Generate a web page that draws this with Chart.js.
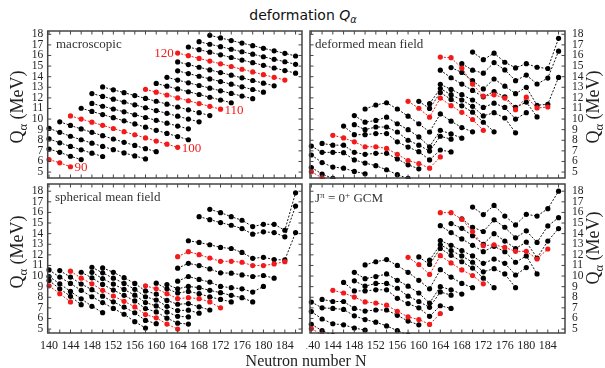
<!DOCTYPE html>
<html>
<head>
<meta charset="utf-8">
<script src="https://cdn.jsdelivr.net/npm/chart.js@4.4.1/dist/chart.umd.min.js"></script>
<style>
  body { margin: 0; background: #fff; }
  #page { position: relative; width: 605px; height: 368px; overflow: hidden;
          font-family: "Liberation Serif", "Times New Roman", serif; color: #222; }
  canvas { position: absolute; }
  .txt { position: absolute; white-space: nowrap; line-height: 1; }
  .ytitle { position: absolute; white-space: nowrap; line-height: 1; font-size: 18px;
            transform: translate(-50%, -50%) rotate(-90deg); }
  .name { font-size: 13px; color: #333; transform: translateY(-50%); z-index: 5; }
  .sb { font-size: 70%; position: relative; top: 0.3em; }
  .sp { font-size: 70%; position: relative; top: -0.45em; }
</style>
</head>
<body>
<div id="page">
  <canvas id="macro" width="306" height="155" style="left:0;top:27px"></canvas>
  <canvas id="dmf" width="299" height="155" style="left:306px;top:27px"></canvas>
  <canvas id="smf" width="306" height="178" style="left:0;top:180px"></canvas>
  <canvas id="gcm" width="299" height="178" style="left:306px;top:180px"></canvas>

  <div class="txt" style="left:303px;top:15px;transform:translate(-50%,-50%);font-family:'DejaVu Sans',sans-serif;font-size:14px;color:#111;">deformation <i>Q</i><span class="sb"><i>&alpha;</i></span></div>
  <div class="txt" style="left:306px;top:361px;transform:translate(-50%,-50%);font-size:16px;">Neutron number N</div>
  <div class="ytitle" style="left:17px;top:107px;">Q<span class="sb">&alpha;</span> (MeV)</div>
  <div class="ytitle" style="left:17px;top:252px;">Q<span class="sb">&alpha;</span> (MeV)</div>
  <div class="ytitle" style="left:593px;top:107px;">Q<span class="sb">&alpha;</span> (MeV)</div>
  <div class="ytitle" style="left:593px;top:248px;">Q<span class="sb">&alpha;</span> (MeV)</div>

  <div class="txt name" style="left:56px;top:43px;">macroscopic</div>
  <div class="txt name" style="left:315px;top:43px;">deformed mean field</div>
  <div class="txt name" style="left:55px;top:196px;">spherical mean field</div>
  <div class="txt name" style="left:315px;top:198px;">J<span class="sp">&pi;</span> = 0<span class="sp">+</span> GCM</div>
</div>

<script>
// isotope chains (proton number) and first neutron number of each chain, step 2 in N
const chainZ = [90, 92, 94, 96, 98, 100, 102, 104, 106, 108, 110, 112, 114, 116, 118, 120, 122, 124, 126];
const chainStartN = [140, 140, 140, 140, 142, 144, 146, 148, 148, 150, 158, 160, 162, 164, 164, 164, 166, 168, 170];
const redZ = [90, 100, 110, 120];

const neutronTicks = [140, 144, 148, 152, 156, 160, 164, 168, 172, 176, 180, 184];
const neutronMinor = [140, 142, 144, 146, 148, 150, 152, 154, 156, 158, 160, 162, 164, 166, 168, 170, 172, 174, 176, 178, 180, 182, 184, 186];
const qTicks = [5, 6, 7, 8, 9, 10, 11, 12, 13, 14, 15, 16, 17, 18];

// Q_alpha (MeV), one row per chain
const macroQ = [
  [6.18, 5.87, 5.50],
  [7.17, 6.86, 6.49, 6.18],
  [8.13, 7.76, 7.42, 7.10, 6.78, 6.47],
  [9.12, 8.75, 8.38, 8.05, 7.73, 7.42, 7.11, 6.81, 6.52, 6.24],
  [9.74, 9.40, 9.07, 8.75, 8.43, 8.12, 7.81, 7.51, 7.21, 6.92],
  [10.30, 10.00, 9.71, 9.41, 9.11, 8.81, 8.52, 8.22, 7.92, 7.63, 7.33],
  [11.02, 10.72, 10.42, 10.13, 9.83, 9.54, 9.24, 8.94, 8.65, 8.35, 8.05],
  [11.48, 11.21, 10.95, 10.68, 10.41, 10.15, 9.88, 9.61, 9.34, 9.08],
  [12.41, 12.14, 11.88, 11.61, 11.34, 11.07, 10.80, 10.54, 10.27, 10.00, 9.74],
  [13.03, 12.76, 12.49, 12.22, 11.95, 11.68, 11.41, 11.14, 10.87, 10.60, 10.33],
  [12.81, 12.54, 12.27, 12.00, 11.73, 11.46, 11.20, 10.93],
  [13.36, 13.10, 12.84, 12.58, 12.32, 12.06, 11.80, 11.54],
  [13.94, 13.68, 13.42, 13.17, 12.92, 12.67, 12.42, 12.17, 11.92],
  [14.55, 14.29, 14.04, 13.79, 13.54, 13.29, 13.04, 12.79, 12.54],
  [15.39, 15.14, 14.89, 14.64, 14.39, 14.14, 13.89, 13.64, 13.39, 13.14],
  [16.23, 15.98, 15.72, 15.47, 15.21, 14.96, 14.70, 14.45, 14.19, 13.94, 13.68],
  [16.80, 16.55, 16.31, 16.06, 15.81, 15.57, 15.32, 15.07, 14.82, 14.58, 14.33],
  [17.30, 17.06, 16.83, 16.59, 16.35, 16.12, 15.88, 15.64, 15.41, 15.17],
  [17.90, 17.66, 17.41, 17.17, 16.93, 16.68, 16.44, 16.20, 15.95]
];

const dmfQ = [
  [5.03, 4.45, 4.00],
  [5.43, 4.81, 4.40, 4.10],
  [6.61, 5.90, 5.47, 5.37, 5.06, 4.84],
  [7.45, 6.86, 6.86, 6.83, 6.15, 5.85, 5.60, 5.22, 4.75, 4.40],
  [7.70, 7.54, 7.54, 6.86, 6.67, 6.77, 6.77, 6.24, 5.68, 5.31],
  [8.47, 8.22, 7.85, 7.39, 7.39, 7.23, 6.67, 6.09, 5.81, 5.37, 6.43],
  [9.34, 8.53, 8.53, 8.63, 8.63, 7.85, 7.36, 6.92, 6.15, 7.08, 6.90],
  [9.47, 9.00, 9.25, 9.25, 8.78, 8.00, 7.54, 6.98, 8.38, 8.10],
  [10.33, 9.71, 9.87, 10.18, 9.56, 9.00, 8.32, 7.39, 8.94, 8.60, 8.20],
  [10.95, 11.33, 11.54, 10.95, 10.27, 9.56, 8.78, 10.49, 9.80, 9.20, 8.80],
  [11.67, 11.02, 10.18, 11.98, 11.26, 10.64, 9.96, 8.94],
  [11.67, 11.00, 12.50, 11.85, 11.25, 10.65, 9.70, 8.80],
  [11.45, 12.88, 12.30, 11.80, 11.20, 10.30, 10.60, 10.10, 8.70],
  [13.28, 12.80, 12.30, 11.80, 11.10, 11.50, 11.10, 10.00, 10.60],
  [14.61, 13.90, 13.30, 12.70, 12.10, 12.60, 12.10, 11.10, 11.60, 10.20],
  [15.85, 15.79, 14.80, 13.30, 12.16, 12.29, 11.98, 10.89, 12.07, 11.05, 11.14],
  [14.86, 14.40, 13.62, 12.84, 13.78, 13.10, 12.40, 13.00, 11.30, 11.40, 13.93],
  [15.23, 14.61, 14.33, 15.33, 14.64, 13.62, 14.15, 13.31, 13.87, 16.41],
  [16.32, 15.60, 16.22, 15.36, 14.83, 15.23, 14.89, 14.77, 17.62]
];

const smfQ = [
  [9.08, 8.34, 7.56],
  [9.58, 8.80, 8.09, 7.30],
  [9.96, 9.27, 8.55, 7.85, 7.15, 6.55],
  [10.58, 9.90, 9.30, 8.65, 8.05, 7.50, 6.95, 6.40, 5.70, 5.10],
  [10.52, 9.90, 9.25, 8.72, 8.10, 7.57, 7.07, 6.54, 5.82, 5.51],
  [10.46, 9.80, 9.27, 8.65, 8.12, 7.62, 7.09, 6.37, 6.06, 5.47, 5.00],
  [10.36, 9.83, 9.21, 8.68, 8.18, 7.65, 6.93, 6.62, 6.03, 5.56, 5.47],
  [10.35, 9.76, 9.24, 8.74, 8.20, 7.50, 7.18, 6.60, 6.20, 6.15],
  [10.83, 10.30, 9.80, 9.30, 8.75, 8.05, 7.74, 7.15, 6.75, 6.78, 6.50],
  [10.77, 10.35, 9.85, 9.30, 8.60, 8.30, 7.70, 7.34, 7.40, 7.10, 6.80],
  [9.08, 8.80, 8.34, 7.87, 7.96, 7.87, 7.56, 7.00],
  [9.33, 8.80, 8.40, 8.55, 8.34, 8.03, 7.80, 7.56],
  [9.20, 8.80, 9.02, 8.90, 8.65, 8.43, 8.18, 7.96, 7.56],
  [9.52, 9.96, 9.68, 9.43, 9.02, 8.90, 8.80, 8.49, 9.02],
  [10.74, 11.20, 10.99, 10.67, 10.30, 10.27, 10.11, 9.96, 10.05, 9.80],
  [11.83, 12.30, 12.02, 11.70, 11.39, 11.39, 11.30, 10.99, 10.99, 11.14, 11.36],
  [13.33, 13.17, 12.95, 12.70, 12.60, 12.23, 11.67, 11.77, 11.55, 11.52, 14.10],
  [15.60, 15.32, 15.04, 14.79, 14.48, 13.95, 14.17, 14.10, 13.70, 16.60],
  [16.29, 15.98, 15.60, 15.26, 14.67, 14.88, 14.88, 14.32, 17.85]
];

const gcmQ = [
  [5.05, 4.45, 4.00],
  [5.45, 4.85, 4.40, 4.10],
  [6.65, 5.95, 5.50, 5.40, 5.10, 4.90],
  [7.55, 7.00, 6.95, 6.85, 6.25, 5.90, 5.65, 5.30, 4.85, 4.45],
  [7.80, 7.60, 7.60, 6.95, 6.70, 6.80, 6.80, 6.30, 5.75, 5.40],
  [8.65, 8.40, 8.02, 7.56, 7.46, 7.25, 6.68, 6.15, 5.90, 5.44, 6.47],
  [9.40, 8.60, 8.60, 8.70, 8.70, 7.90, 7.40, 7.00, 6.20, 7.20, 6.95],
  [9.55, 9.05, 9.30, 9.30, 8.85, 8.10, 7.60, 7.05, 8.50, 8.20],
  [10.35, 9.75, 9.95, 10.20, 9.60, 9.05, 8.40, 7.45, 9.00, 8.70, 8.30],
  [11.05, 11.35, 11.55, 11.00, 10.35, 9.60, 8.80, 10.60, 9.90, 9.30, 8.90],
  [11.77, 11.08, 10.15, 11.92, 11.24, 10.58, 10.05, 9.27],
  [11.80, 11.10, 12.60, 11.95, 11.35, 10.75, 9.80, 8.90],
  [11.50, 12.95, 12.40, 11.90, 11.30, 10.40, 10.70, 10.20, 8.90],
  [13.35, 12.90, 12.40, 11.90, 11.20, 11.60, 11.20, 10.10, 10.80],
  [14.75, 14.10, 13.50, 12.90, 12.30, 12.80, 12.30, 11.30, 11.90, 10.20],
  [15.98, 15.98, 15.35, 14.20, 12.86, 12.95, 12.70, 12.33, 12.33, 11.61, 12.55],
  [14.95, 14.50, 13.80, 13.00, 14.00, 13.30, 12.60, 13.20, 11.70, 13.30, 14.48],
  [15.40, 14.60, 14.20, 15.30, 14.60, 13.60, 14.26, 13.17, 14.73, 15.50],
  [16.50, 15.80, 16.66, 15.66, 14.82, 15.82, 15.66, 16.35, 18.00]
];

const RED = '#f21a1a';

// frame with inward ticks on all four sides
const framePlugin = {
  id: 'frame',
  afterDraw(chart) {
    const { ctx, chartArea: a, scales: { x, y } } = chart;
    ctx.save();
    ctx.strokeStyle = '#444';
    ctx.lineWidth = 1;
    ctx.beginPath();
    neutronMinor.forEach(n => {
      const px = x.getPixelForValue(n);
      ctx.moveTo(px, a.bottom); ctx.lineTo(px, a.bottom - 3.5);
      ctx.moveTo(px, a.top); ctx.lineTo(px, a.top + 3.5);
    });
    qTicks.forEach(q => {
      const py = y.getPixelForValue(q);
      ctx.moveTo(a.left, py); ctx.lineTo(a.left + 3.5, py);
      ctx.moveTo(a.right, py); ctx.lineTo(a.right - 3.5, py);
    });
    ctx.stroke();
    ctx.lineWidth = 1.5;
    ctx.strokeRect(a.left, a.top, a.right - a.left, a.bottom - a.top);
    ctx.restore();
  }
};

// red Z labels next to the ends of the marked chains (macroscopic panel)
const zLabelPlugin = {
  id: 'zLabels',
  afterDatasetsDraw(chart, args, opts) {
    if (!opts.show) return;
    const { ctx, scales: { x, y } } = chart;
    ctx.save();
    ctx.fillStyle = RED;
    ctx.font = '13px "Liberation Serif", serif';
    ctx.textBaseline = 'middle';
    chart.data.datasets.forEach(ds => {
      if (!redZ.includes(ds.z)) return;
      const atStart = ds.z === 120;
      const p = atStart ? ds.data[0] : ds.data[ds.data.length - 1];
      const px = x.getPixelForValue(p.x), py = y.getPixelForValue(p.y);
      ctx.textAlign = atStart ? 'right' : 'left';
      ctx.fillText(String(ds.z), atStart ? px - 4 : px + 4, py + 1);
    });
    ctx.restore();
  }
};

function buildDatasets(values) {
  return chainZ.map((z, i) => {
    const red = redZ.includes(z);
    return {
      z: z,
      label: 'Z=' + z,
      data: values[i].map((q, k) => ({ x: chainStartN[i] + 2 * k, y: q })),
      borderColor: red ? RED : '#111',
      backgroundColor: red ? RED : '#000',
      pointBackgroundColor: red ? RED : '#000',
      pointBorderWidth: 0,
      pointRadius: 2.6,
      borderWidth: 1,
      borderDash: [2, 1.6],
      tension: 0,
      clip: { left: 4, right: 4, top: 1, bottom: 1 },
      order: red ? 0 : 1
    };
  });
}

function makePanel(id, values, opt) {
  const cv = document.getElementById(id);
  const W = cv.width, H = cv.height;
  const left = opt.yPos === 'left';
  const yW = left ? opt.plotL : W - opt.plotR;
  return new Chart(cv, {
    type: 'line',
    data: { datasets: buildDatasets(values) },
    options: {
      responsive: false,
      animation: false,
      events: [],
      layout: {
        padding: {
          left: left ? 0 : opt.plotL,
          right: left ? W - opt.plotR : 0,
          top: opt.plotT,
          bottom: opt.xLabels ? 0 : H - opt.plotB
        }
      },
      plugins: {
        legend: { display: false },
        tooltip: { enabled: false },
        zLabels: { show: !!opt.zLabels }
      },
      scales: {
        x: {
          type: 'linear',
          min: 139.75, max: 187.2,
          display: opt.xLabels,
          grid: { display: false, drawTicks: false },
          border: { display: false },
          afterBuildTicks: s => { s.ticks = neutronTicks.map(v => ({ value: v })); },
          afterFit: s => {
            s.height = H - opt.plotB;
            s.paddingLeft = 0; s.paddingRight = 0;
          },
          ticks: {
            padding: 6,
            maxRotation: 0,
            autoSkip: false,
            color: '#222',
            font: { family: '"Liberation Serif", serif', size: 12 }
          }
        },
        y: {
          type: 'linear',
          position: opt.yPos,
          min: opt.yMin, max: opt.yMax,
          grid: { display: false, drawTicks: false },
          border: { display: false },
          afterBuildTicks: s => { s.ticks = qTicks.map(v => ({ value: v })); },
          afterFit: s => {
            s.width = yW;
            s.paddingTop = 0; s.paddingBottom = 0;
          },
          ticks: {
            padding: left ? 4.5 : 7,
            autoSkip: false,
            color: '#222',
            font: { family: '"Liberation Serif", serif', size: 11.5 }
          }
        }
      }
    },
    plugins: [framePlugin, zLabelPlugin]
  });
}

// plot rectangles, in each canvas's own coordinates
makePanel('macro', macroQ, { yPos: 'left', plotL: 47.7, plotR: 304.5, plotT: 4, plotB: 153, yMin: 4.44, yMax: 18.31, xLabels: false, zLabels: true });
makePanel('dmf', dmfQ, { yPos: 'right', plotL: 2, plotR: 259, plotT: 4, plotB: 153, yMin: 4.44, yMax: 18.31, xLabels: false });
makePanel('smf', smfQ, { yPos: 'left', plotL: 47.7, plotR: 304.5, plotT: 2.7, plotB: 153, yMin: 4.63, yMax: 18.68, xLabels: true });
makePanel('gcm', gcmQ, { yPos: 'right', plotL: 2, plotR: 259, plotT: 2.7, plotB: 153, yMin: 4.63, yMax: 18.68, xLabels: true });
</script>
</body>
</html>
